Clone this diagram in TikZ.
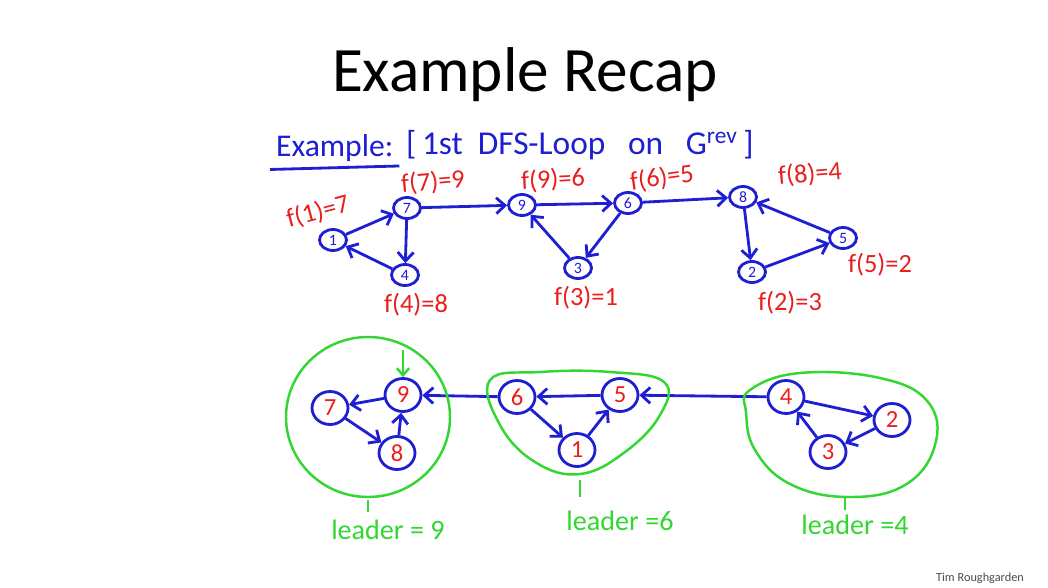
\documentclass[tikz,border=0pt]{standalone}
\usepackage{fontspec}
\setmainfont{Carlito}
\usetikzlibrary{arrows.meta,shapes.geometric}
\definecolor{penblue}{RGB}{30,30,210}
\definecolor{penred}{RGB}{235,30,30}
\definecolor{pengreen}{RGB}{50,215,50}

\begin{document}
\begin{tikzpicture}[x=0.02cm, y=-0.02cm,
    vtx/.style={draw=penblue, ellipse, line width=1.6pt, minimum width=0.54cm, minimum height=0.42cm, inner sep=0pt, font=\fontsize{9}{9}\selectfont, text=penblue},
    bvtx/.style={draw=penblue, ellipse, line width=1.6pt, minimum width=0.72cm, minimum height=0.66cm, inner sep=0pt, font=\fontsize{14}{14}\selectfont, text=penred},
    arr/.style={-{Straight Barb[length=5pt,width=9pt]}, line width=1.6pt, penblue},
    fval/.style={text=penred, font=\fontsize{15}{15}\selectfont},
    lead/.style={text=pengreen, font=\fontsize{16}{16}\selectfont},
    scc/.style={draw=pengreen, line width=1.4pt}
]
\useasboundingbox[fill=white] (0,0) rectangle (1048,588);

% title
\node (title) at (525,75) {\fontsize{36}{36}\selectfont Example Recap};
\node[text=penblue, font=\fontsize{18}{18}\selectfont, anchor=west] (ex) at (270,148) {Example:};
\draw[penblue, line width=1.6pt] ([yshift=-1pt]ex.south west) -- ([yshift=1pt]ex.south east);
\node[text=penblue, font=\fontsize{19}{19}\selectfont, anchor=west] (hdr) at (400,145) {[\,1st\ \ DFS-Loop\ \ \ on\ \ \ G\textsuperscript{rev}\,]};

% top graph (G rev)
\node[vtx] (t1) at (333,240) {1};
\node[vtx] (t7) at (407,208) {7};
\node[vtx] (t4) at (405,275) {4};
\node[vtx] (t9) at (522,205) {9};
\node[vtx] (t6) at (628,203) {6};
\node[vtx] (t3) at (578,268) {3};
\node[vtx] (t8) at (743,197) {8};
\node[vtx] (t5) at (843,238) {5};
\node[vtx] (t2) at (752,272) {2};

\draw[arr] (t1) -- (t7);
\draw[arr] (t7) -- (t4);
\draw[arr] (t4) -- (t1);
\draw[arr] (t7) -- (t9);
\draw[arr] (t9) -- (t6);
\draw[arr] (t6) -- (t3);
\draw[arr] (t3) -- (t9);
\draw[arr] (t6) -- (t8);
\draw[arr] (t8) -- (t2);
\draw[arr] (t2) -- (t5);
\draw[arr] (t5) -- (t8);

\node[fval, rotate=15] (f1) at (318,212) {f(1)=7};
\node[fval, rotate=5] (f7) at (433,182) {f(7)=9};
\node[fval] (f4) at (416,305) {f(4)=8};
\node[fval, rotate=3] (f9) at (553,180) {f(9)=6};
\node[fval, rotate=8] (f6) at (662,178) {f(6)=5};
\node[fval] (f3) at (586,298) {f(3)=1};
\node[fval, rotate=5] (f8) at (810,174) {f(8)=4};
\node[fval] (f5) at (880,265) {f(5)=2};
\node[fval] (f2) at (790,303) {f(2)=3};

% bottom graph (G, new names)
\node[bvtx] (b7) at (330,408) {7};
\node[bvtx] (b9) at (403,395) {9};
\node[bvtx] (b8) at (397,453) {8};
\node[bvtx] (b6) at (517,397) {6};
\node[bvtx] (b5) at (620,395) {5};
\node[bvtx] (b1) at (577,450) {1};
\node[bvtx] (b4) at (786,397) {4};
\node[bvtx] (b2) at (892,420) {2};
\node[bvtx] (b3) at (828,452) {3};

\draw[arr] (b9) -- (b7);
\draw[arr] (b7) -- (b8);
\draw[arr] (b8) -- (b9);
\draw[arr] (b6) -- (b1);
\draw[arr] (b1) -- (b5);
\draw[arr] (b5) -- (b6);
\draw[arr] (b4) -- (b2);
\draw[arr] (b2) -- (b3);
\draw[arr] (b3) -- (b4);
\draw[arr] (b6) -- (b9);
\draw[arr] (b4) -- (b5);

% start marker
\coordinate (st) at (403,350);
\draw[-{Straight Barb[length=4pt,width=7pt]}, pengreen, line width=1.4pt] (st) -- (b9);

% SCCs
\draw[scc] (368,417) ellipse [x radius=82, y radius=80];
\draw[scc] plot[smooth cycle, tension=0.7] coordinates {(490,380) (540,372) (610,372) (664,382) (660,415) (625,452) (580,474) (535,462) (500,425)};
\draw[scc] plot[smooth cycle, tension=0.7] coordinates {(750,390) (800,373) (880,378) (928,402) (935,445) (905,485) (848,497) (790,484) (755,450) (746,412)};

\node[lead] (l9) at (388,530) {leader = 9};
\node[lead] (l6) at (620,521) {leader =6};
\node[lead] (l4) at (855,525) {leader =4};
\draw[scc] (368,500) -- (368,512);
\draw[scc] (580,480) -- (580,497);
\draw[scc] (845,497) -- (845,510);

\node[text=black!70, font=\fontsize{7}{7}\selectfont] (auth) at (980,578) {Tim Roughgarden};
\end{tikzpicture}
\end{document}
